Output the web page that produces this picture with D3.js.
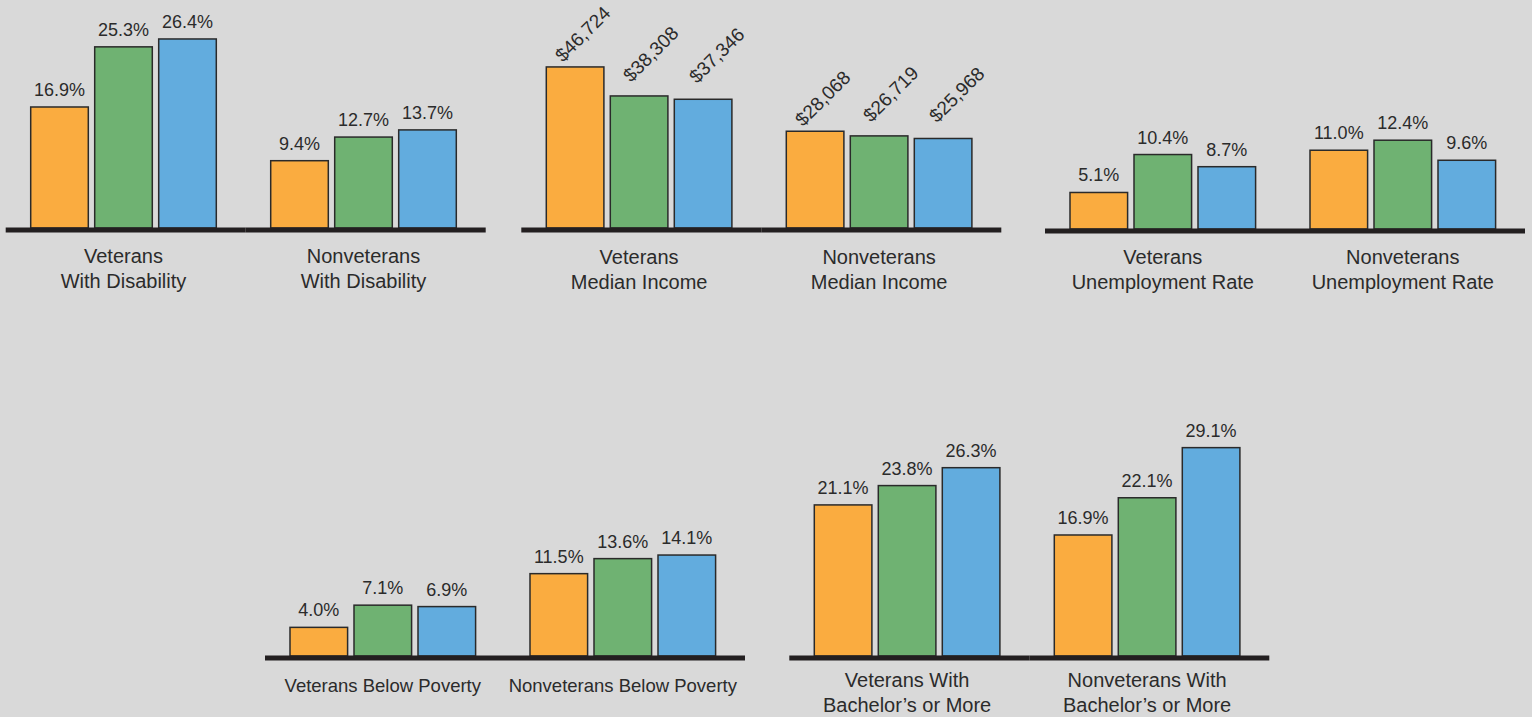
<!DOCTYPE html>
<html>
<head>
<meta charset="utf-8">
<script src="https://cdn.jsdelivr.net/npm/d3@7"></script>
<style>
	body { margin:0; background:#d9d9d9; }
	svg { display:block; }
	text { font-family: "Liberation Sans", Arial, sans-serif; fill:#2b2b2b; }
</style>
</head>
<body>
<div id="svg-container"></div>
<script>
// three series, same order in every group
var seriesKeys = ["s1", "s2", "s3"];
var seriesColors = ["#faac40", "#6fb272", "#62acde"];

var disabilityCats = [["Veterans", "With Disability"], ["Nonveterans", "With Disability"]];
var disabilityVals = [[16.9, 25.3, 26.4], [9.4, 12.7, 13.7]];

var incomeCats = [["Veterans", "Median Income"], ["Nonveterans", "Median Income"]];
var incomeVals = [[46724, 38308, 37346], [28068, 26719, 25968]];

var unemploymentCats = [["Veterans", "Unemployment Rate"], ["Nonveterans", "Unemployment Rate"]];
var unemploymentVals = [[5.1, 10.4, 8.7], [11.0, 12.4, 9.6]];

var povertyCats = [["Veterans Below Poverty"], ["Nonveterans Below Poverty"]];
var povertyVals = [[4.0, 7.1, 6.9], [11.5, 13.6, 14.1]];

var bachelorCats = [["Veterans With", "Bachelor\u2019s or More"], ["Nonveterans With", "Bachelor\u2019s or More"]];
var bachelorVals = [[21.1, 23.8, 26.3], [16.9, 22.1, 29.1]];

var svg_width = 1532,
	svg_height = 717,
	panel_width = 480,
	line_height = 5,
	// nudges for the slanted dollar labels, per series
	rot_dx = [-12, -8, -6],
	rot_dy = [-4, -13, -15];

var svg = d3.select("#svg-container").append("svg")
	.attr("width", svg_width)
	.attr("height", svg_height);

svg.append("rect").attr("width", svg_width).attr("height", svg_height).attr("fill", "#d9d9d9");

// same height scale for every percent panel, one for dollars
var pctScale = d3.scaleLinear().domain([0, 30]).range([0, 214.8]);
var incScale = d3.scaleLinear().domain([0, 50000]).range([0, 172.35]);

var fmtPct = function (v) { return d3.format(".1f")(v) + "%"; };
var fmtInc = function (v) { return "$" + d3.format(",")(v); };

var groupScale = d3.scaleBand().domain([0, 1]).range([0, panel_width]);
var barScale = d3.scaleBand().domain(seriesKeys).range([25, 210.6]).paddingInner(0.1);

function drawPanel(cfg) {
	var g = svg.append("g").attr("transform", "translate(" + cfg.x + " " + cfg.base + ")");

	cfg.vals.forEach(function (vals, gi) {
		var grp = g.append("g").attr("transform", "translate(" + groupScale(gi) + " 0)");
		var rows = vals.map(function (v, i) { return { key: seriesKeys[i], idx: i, v: v, color: seriesColors[i] }; });

		grp.selectAll("rect.bar")
			.data(rows).enter().append("rect")
			.attr("class", "bar")
			.attr("x", function (d) { return barScale(d.key); })
			.attr("y", function (d) { return -cfg.scale(d.v); })
			.attr("width", barScale.bandwidth())
			.attr("height", function (d) { return cfg.scale(d.v); })
			.attr("fill", function (d) { return d.color; })
			.attr("stroke", "#2a2a2a")
			.attr("stroke-width", 1.5);

		if (cfg.rotate) {
			grp.selectAll("text.val")
				.data(rows).enter().append("text")
				.attr("class", "val")
				.attr("font-size", 19)
				.attr("transform", function (d) {
					var cx = barScale(d.key) + barScale.bandwidth() / 2 + rot_dx[d.idx];
					var cy = -cfg.scale(d.v) + rot_dy[d.idx];
					return "translate(" + cx + " " + cy + ") rotate(-45)";
				})
				.text(function (d) { return cfg.fmt(d.v); });
		} else {
			grp.selectAll("text.val")
				.data(rows).enter().append("text")
				.attr("class", "val")
				.attr("font-size", 18)
				.attr("text-anchor", "middle")
				.attr("x", function (d) { return barScale(d.key) + barScale.bandwidth() / 2; })
				.attr("y", function (d) { return -cfg.scale(d.v) - 11; })
				.text(function (d) { return cfg.fmt(d.v); });
		}

		var cx = barScale(seriesKeys[0]) + (barScale(seriesKeys[2]) + barScale.bandwidth() - barScale(seriesKeys[0])) / 2;
		grp.selectAll("text.cat")
			.data(cfg.cats[gi]).enter().append("text")
			.attr("class", "cat")
			.attr("font-size", cfg.catSize)
			.attr("text-anchor", "middle")
			.attr("x", cx)
			.attr("y", function (d, i) { return cfg.catY + i * 25; })
			.text(function (d) { return d; });

		// the base line is two joined pieces
		grp.append("rect")
			.attr("x", 0)
			.attr("y", -0.5)
			.attr("width", groupScale.bandwidth())
			.attr("height", line_height)
			.attr("fill", "#231f20");
	});
}

drawPanel({ x: 5.7, base: 228, vals: disabilityVals, cats: disabilityCats, scale: pctScale, fmt: fmtPct, catSize: 20, catY: 34.5 });
drawPanel({ x: 521.3, base: 228, vals: incomeVals, cats: incomeCats, scale: incScale, fmt: fmtInc, catSize: 20, catY: 36, rotate: true });
drawPanel({ x: 1045, base: 229, vals: unemploymentVals, cats: unemploymentCats, scale: pctScale, fmt: fmtPct, catSize: 20, catY: 34.5 });
drawPanel({ x: 265, base: 656, vals: povertyVals, cats: povertyCats, scale: pctScale, fmt: fmtPct, catSize: 18.5, catY: 36 });
drawPanel({ x: 789.3, base: 656, vals: bachelorVals, cats: bachelorCats, scale: pctScale, fmt: fmtPct, catSize: 20, catY: 31 });
</script>
</body>
</html>
